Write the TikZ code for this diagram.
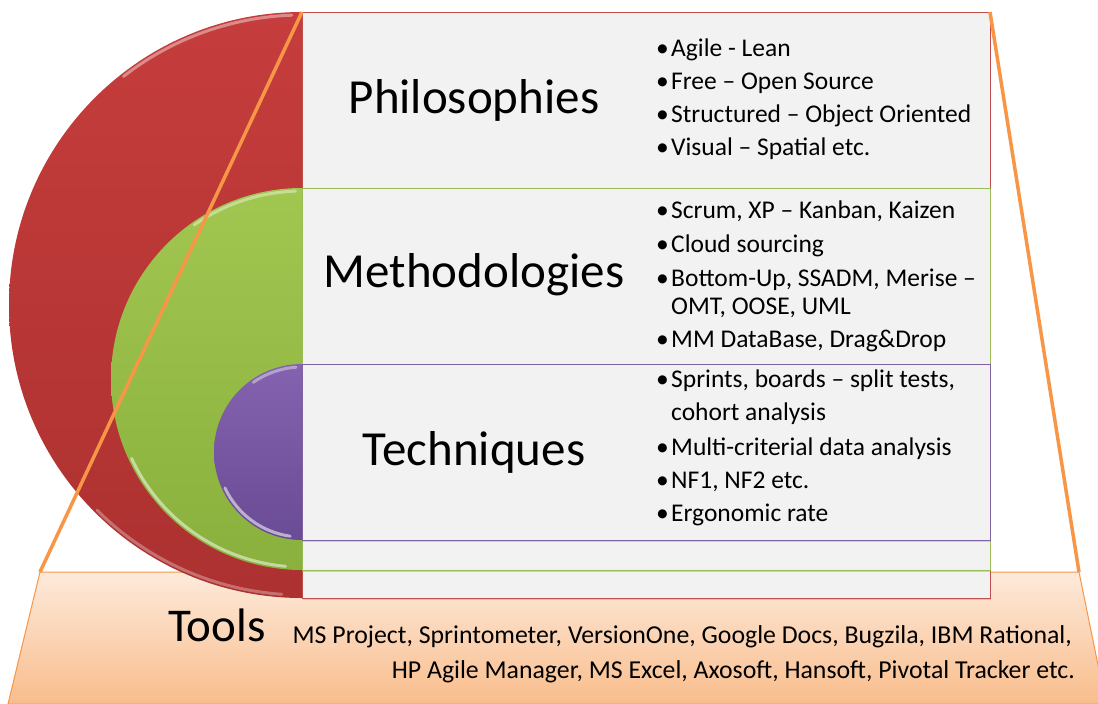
\documentclass[tikz,border=0pt]{standalone}
\usepackage{fontspec}
\setmainfont{Carlito}
\usetikzlibrary{shadows}
\definecolor{redA}{HTML}{C53D3C}
\definecolor{redB}{HTML}{AC3130}
\definecolor{grnA}{HTML}{A1C751}
\definecolor{grnB}{HTML}{8AB03D}
\definecolor{purA}{HTML}{8462AF}
\definecolor{purB}{HTML}{6A4B95}
\definecolor{redL}{HTML}{C0504D}
\definecolor{grnL}{HTML}{9BBB59}
\definecolor{purL}{HTML}{8064A2}
\definecolor{orgL}{HTML}{F79646}
\definecolor{peachA}{HTML}{FDEADB}
\definecolor{peachB}{HTML}{F9BD8C}
\definecolor{boxF}{HTML}{F2F2F2}
\begin{document}
\begin{tikzpicture}[x=1pt,y=-1pt,
  lvlbox/.style={fill=boxF, line width=1pt, drop shadow={opacity=0.3,shadow xshift=1pt,shadow yshift=-2pt}},
  head/.style={font=\fontsize{49}{55}\selectfont, anchor=center, inner sep=0pt},
  item/.style={font=\fontsize{25.5}{28}\selectfont, anchor=base west, inner sep=0pt},
  tool/.style={font=\fontsize{25.8}{28}\selectfont, anchor=base east, inner sep=0pt},
  toolhead/.style={font=\fontsize{47}{52}\selectfont, anchor=base west, inner sep=0pt},
  pedge/.style={draw=orgL, line width=3.5pt},
  shine/.style={white, opacity=0.4, line width=3pt, line cap=round}]
\useasboundingbox (0,0) rectangle (1098,704);
\clip (0,0) rectangle (1098,704);
% corner coordinates
\coordinate (boxTL) at (302,12);
\coordinate (boxTR) at (990,12);
\coordinate (trapTL) at (40,572);
\coordinate (trapTR) at (1079,572);
% tools trapezoid
\path[top color=peachA, bottom color=peachB, draw=orgL, line width=1pt]
  (trapTL) -- (trapTR) -- (1106,704) -- (8,704) -- cycle;
% red level
\draw[lvlbox, draw=redL] (302,12) rectangle (990,598);
\path[top color=redA, bottom color=redB] (302,12) arc[start angle=90,end angle=270,radius=293pt] -- cycle;
\draw[shine] (302,305) ++(92:290pt) arc[start angle=92,end angle=128,radius=290pt];
\draw[shine, opacity=0.3] (302,305) ++(225:290pt) arc[start angle=225,end angle=266,radius=290pt];
% green level
\draw[lvlbox, draw=grnL] (302,188) rectangle (990,570);
\path[top color=grnA, bottom color=grnB] (302,188) arc[start angle=90,end angle=270,radius=191pt] -- cycle;
\draw[shine] (302,379) ++(92:188pt) arc[start angle=92,end angle=125,radius=188pt];
\draw[shine, opacity=0.5] (302,379) ++(205:188pt) arc[start angle=205,end angle=265,radius=188pt];
% purple level
\draw[lvlbox, draw=purL] (302,364) rectangle (990,540);
\path[top color=purA, bottom color=purB] (302,364) arc[start angle=90,end angle=270,radius=88pt] -- cycle;
\draw[shine] (302,452) ++(94:85pt) arc[start angle=94,end angle=125,radius=85pt];
\draw[shine, opacity=0.55] (302,452) ++(205:85pt) arc[start angle=205,end angle=262,radius=85pt];
% orange edges
\draw[pedge] (boxTL) -- (trapTL);
\draw[pedge] (boxTR) -- (trapTR);
% headings
\node[head] (phil) at (474,100) {Philosophies};
\node[head] (meth) at (474,275) {Methodologies};
\node[head] (tech) at (474,452) {Techniques};
% philosophies items
\node[item] (p1) at (656,56) {\makebox[15pt][l]{\textbullet}Agile - Lean};
\node[item] (p2) at (656,89) {\makebox[15pt][l]{\textbullet}Free – Open Source};
\node[item] (p3) at (656,122) {\makebox[15pt][l]{\textbullet}Structured – Object Oriented};
\node[item] (p4) at (656,155) {\makebox[15pt][l]{\textbullet}Visual – Spatial etc.};
% methodologies items
\node[item] (m1) at (656,218) {\makebox[15pt][l]{\textbullet}Scrum, XP – Kanban, Kaizen};
\node[item] (m2) at (656,252) {\makebox[15pt][l]{\textbullet}Cloud sourcing};
\node[item] (m3) at (656,286) {\makebox[15pt][l]{\textbullet}Bottom-Up, SSADM, Merise –};
\node[item] (m3b) at (671,314) {OMT, OOSE, UML};
\node[item] (m4) at (656,347) {\makebox[15pt][l]{\textbullet}MM DataBase, Drag\&Drop};
% techniques items
\node[item] (t1) at (656,387) {\makebox[15pt][l]{\textbullet}Sprints, boards – split tests,};
\node[item] (t1b) at (671,420) {cohort analysis};
\node[item] (t2) at (656,455) {\makebox[15pt][l]{\textbullet}Multi-criterial data analysis};
\node[item] (t3) at (656,488) {\makebox[15pt][l]{\textbullet}NF1, NF2 etc.};
\node[item] (t4) at (656,521) {\makebox[15pt][l]{\textbullet}Ergonomic rate};
% tools
\node[toolhead] (tools) at (168,641) {Tools};
\node[tool] (tl1) at (1072,643) {MS Project, Sprintometer, VersionOne, Google Docs, Bugzila, IBM Rational,};
\node[tool] (tl2) at (1075,678) {HP Agile Manager, MS Excel, Axosoft, Hansoft, Pivotal Tracker etc.};
\end{tikzpicture}
\end{document}
